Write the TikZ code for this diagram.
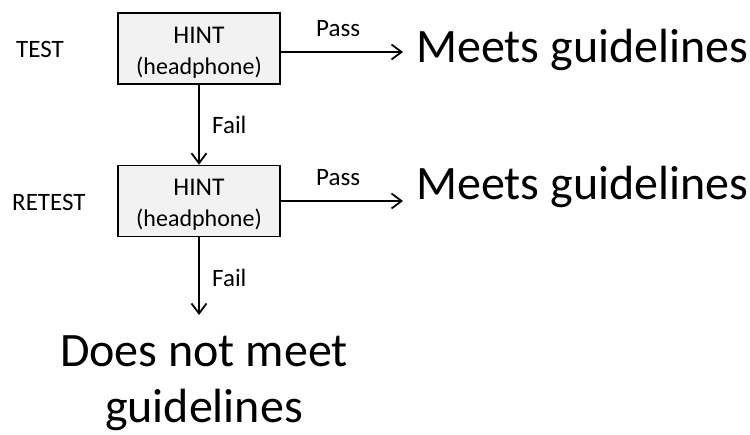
\documentclass[tikz,border=0pt]{standalone}
\usepackage{fontspec}
\setmainfont{Carlito}
\usetikzlibrary{arrows.meta}

\begin{document}
\begin{tikzpicture}[x=1pt,y=-1pt,
    caja/.style={draw,line width=1.6pt,fill=gray!10,minimum width=162pt,minimum height=71pt,align=center,inner sep=0pt,font=\fontsize{25.5}{31}\selectfont},
    flecha/.style={line width=1.5pt,-{Straight Barb[length=10pt,width=15pt,line width=1.8pt]}},
    chico/.style={font=\fontsize{25}{30}\selectfont,inner sep=0pt,anchor=base west},
    grande/.style={font=\fontsize{48}{56}\selectfont,inner sep=0pt}]
            \useasboundingbox (0,0) rectangle (750,435);

            % Primera prueba
            \node[chico] (test) at (16,58) {TEST};
            \node[caja] (hint1) at (199,48.5) {\rule{0pt}{24pt}HINT\\{\fontsize{24}{31}\selectfont (headphone)}};
            \coordinate (fin1) at (403,52);
            \draw[flecha] (hint1.east |- fin1) -- (fin1);
            \node[chico] (pass1) at (316,37) {Pass};
            \node[grande,anchor=base west] (meets1) at (416,63) {Meets guidelines};

            % Segunda prueba
            \node[chico] (retest) at (12,211) {RETEST};
            \node[caja] (hint2) at (199,201) {\rule{0pt}{24pt}HINT\\{\fontsize{24}{31}\selectfont (headphone)}};
            \draw[flecha] (hint1) -- (hint2);
            \node[chico] (fail1) at (212,134) {Fail};
            \coordinate (fin2) at (403,201);
            \draw[flecha] (hint2.east |- fin2) -- (fin2);
            \node[chico] (pass2) at (316,186) {Pass};
            \node[grande,anchor=base west] (meets2) at (416,200) {Meets guidelines};

            % Resultado final
            \coordinate (fin3) at (199,315);
            \draw[flecha] (hint2) -- (fin3);
            \node[chico] (fail2) at (212,287) {Fail};
            \node[grande,align=center,anchor=base] (nomeets) at (204,423) {Does not meet\\guidelines};
        \end{tikzpicture}
\end{document}
